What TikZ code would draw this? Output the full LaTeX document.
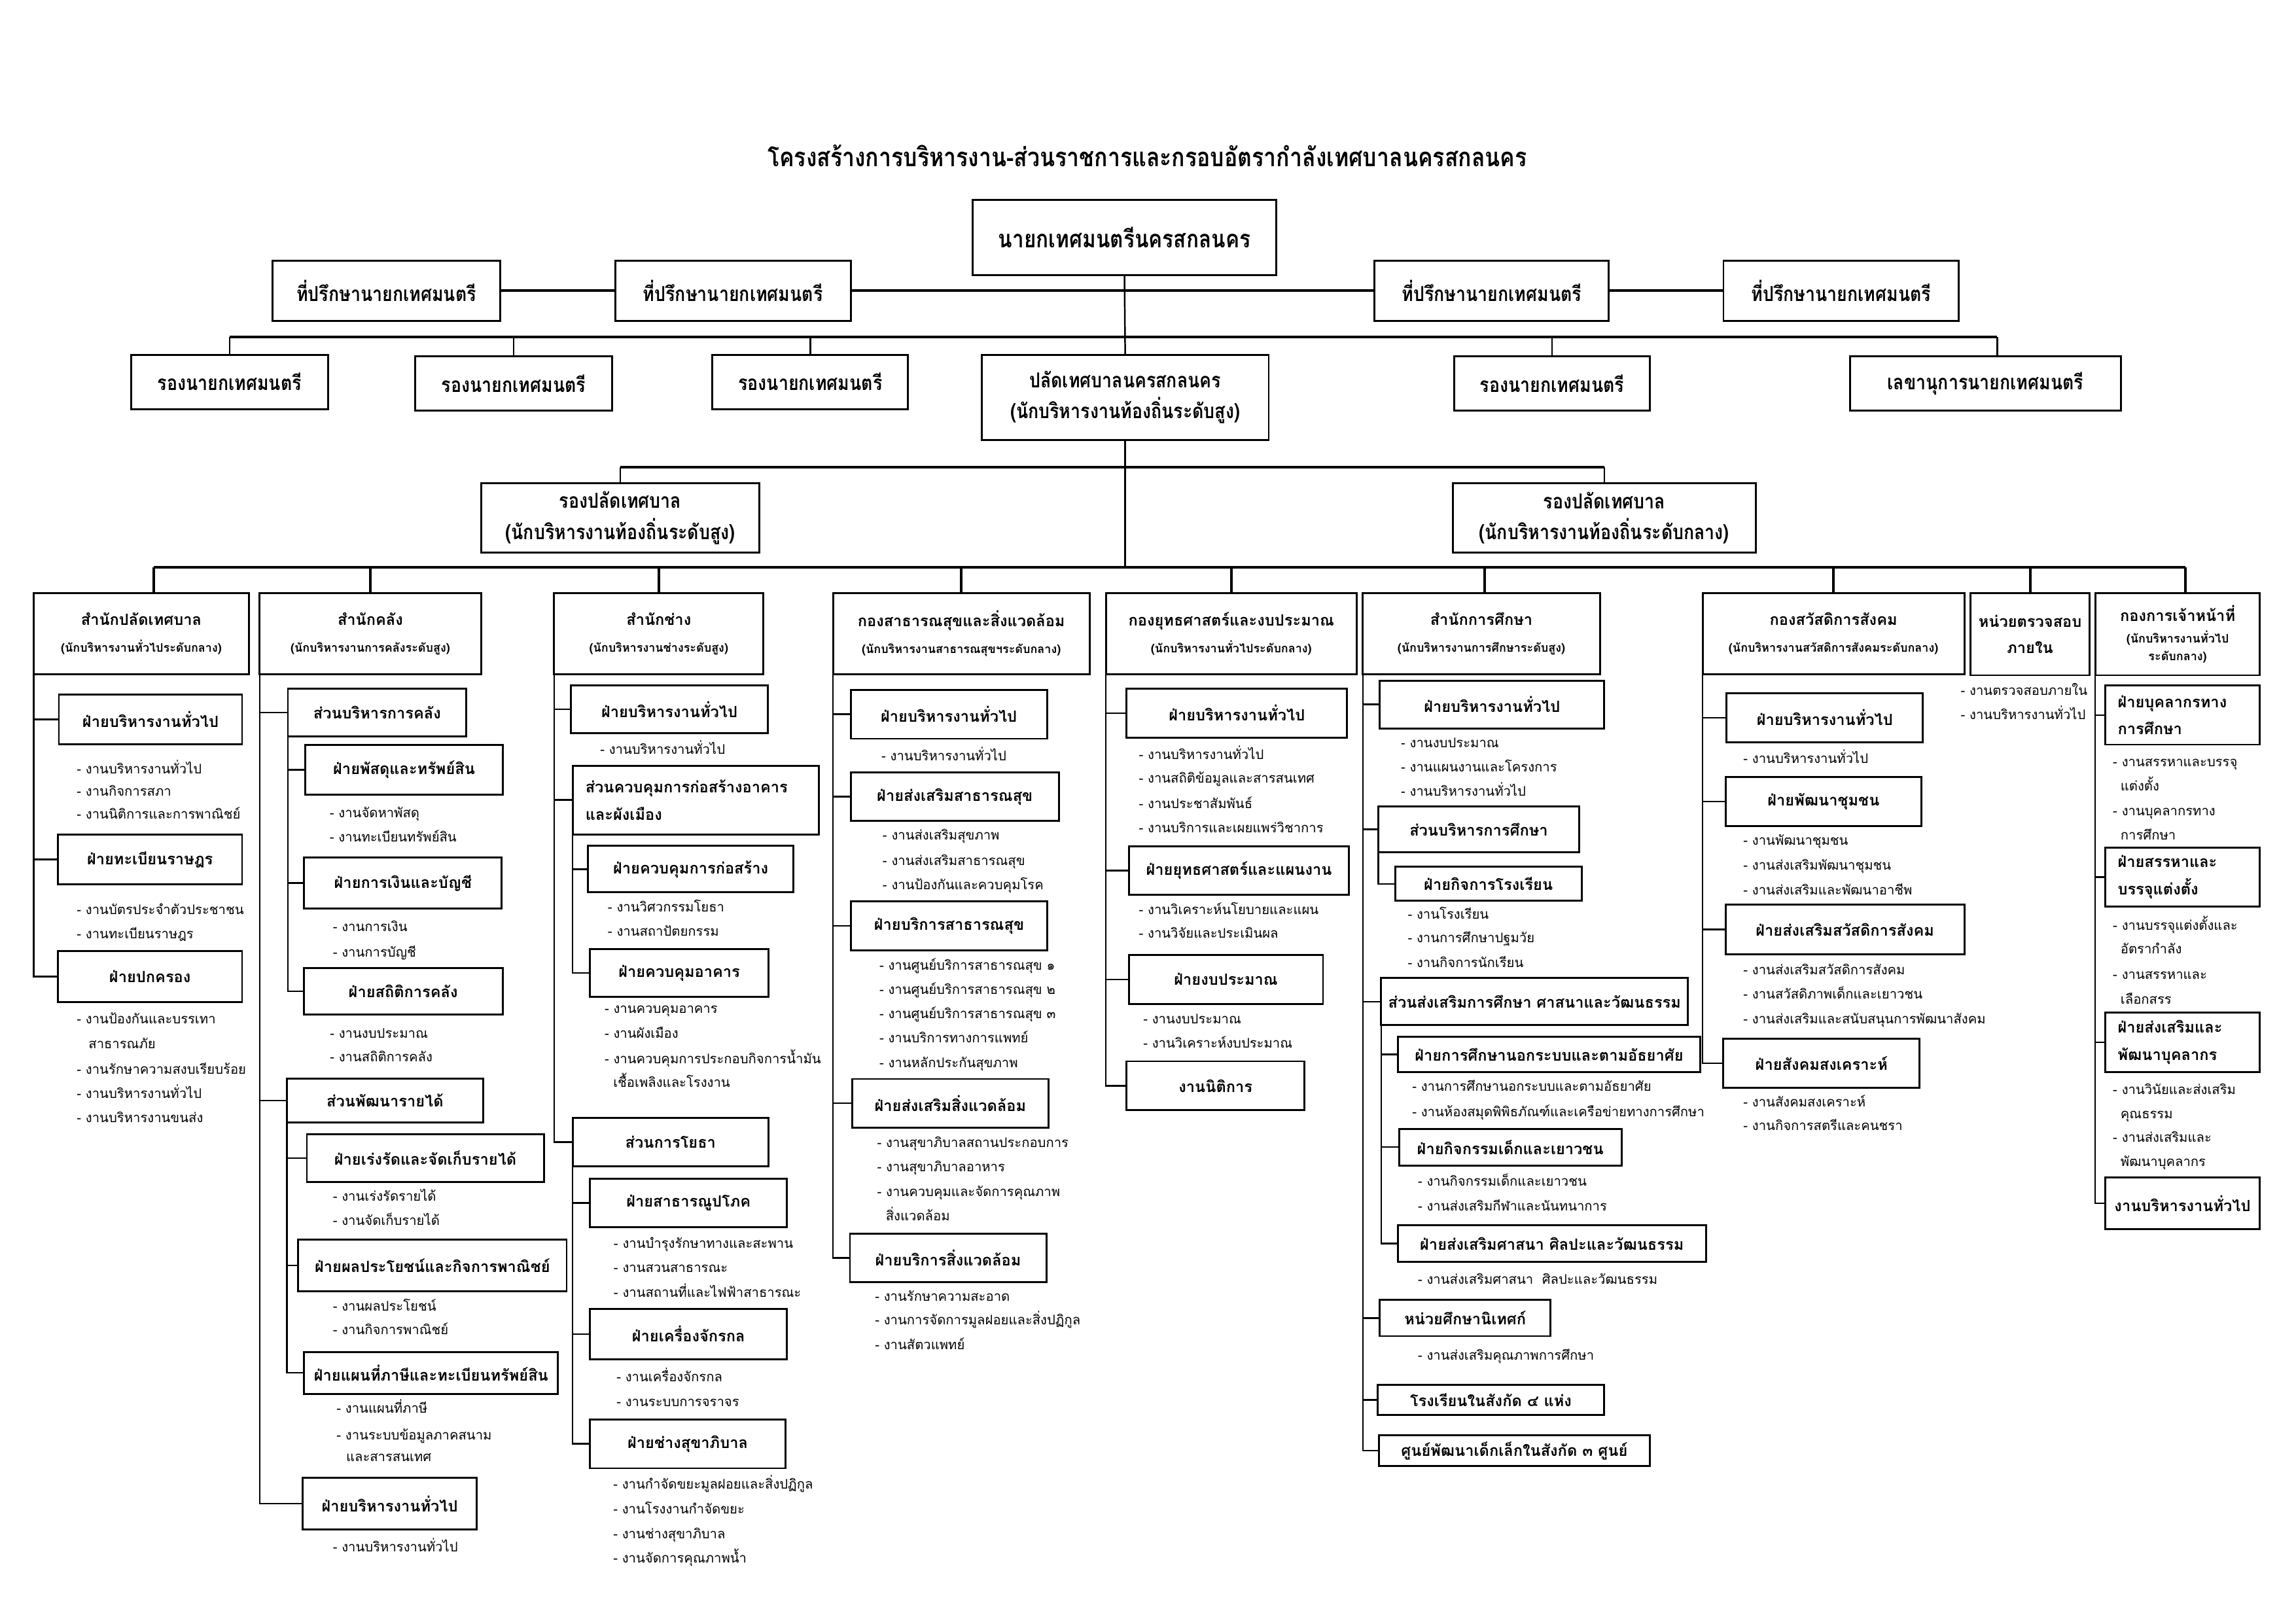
\documentclass[tikz,border=0pt]{standalone}
\usepackage{fontspec}
\setmainfont[Script=Thai]{Loma}
\newfontfamily\thaic[Script=Thai,FakeStretch=0.85]{Loma}
\tikzset{
  box/.style={draw, line width=1.3pt, inner sep=0pt, outer sep=0pt, align=center, font=\bfseries\fontsize{10.5}{14}\selectfont},
  lbox/.style={box, align=left, font=\bfseries\fontsize{10.5}{18.5}\selectfont},
  topbox/.style={box, font=\thaic\bfseries\fontsize{14}{21}\selectfont},
  hdr/.style={box, font=\bfseries\fontsize{10.5}{18}\selectfont},
  item/.style={anchor=west, inner sep=0pt, text height=7pt, text depth=2.4pt, font=\fontsize{9}{12}\selectfont},
  conn/.style={line width=1.1pt},
  bus/.style={line width=1.8pt},
}
\newcommand\bx[7]{\pgfmathsetmacro\bxw{#4-#2}\pgfmathsetmacro\bxh{#5-#3}%
  \node[#1,anchor=north west,minimum width=\bxw pt,minimum height=\bxh pt] (#6) at (#2,#3) {#7};}
\newcommand\itm[4]{\node[item] (#1) at (#2,#3) {#4};}
\newcommand\sm[1]{{\fontsize{8}{18}\selectfont #1}}
\begin{document}
\begin{tikzpicture}[x=1pt,y=-1pt]
\fill[white] (0,0) rectangle (1560,1103);
\path[use as bounding box] (0,0) rectangle (1560,1103);

% ---------- top ----------
\node[inner sep=0pt, font=\thaic\bfseries\fontsize{17.7}{20}\selectfont] (title) at (779.5,106) {โครงสร้างการบริหารงาน-ส่วนราชการและกรอบอัตรากำลังเทศบาลนครสกลนคร};
\bx{topbox}{661}{136}{867}{187}{mayor}{\fontsize{16.5}{20}\selectfont นายกเทศมนตรีนครสกลนคร}
\bx{topbox}{185}{177}{340}{218}{adv1}{ที่ปรึกษานายกเทศมนตรี}
\bx{topbox}{418}{177}{578}{218}{adv2}{ที่ปรึกษานายกเทศมนตรี}
\bx{topbox}{934}{177}{1093}{218}{adv3}{ที่ปรึกษานายกเทศมนตรี}
\bx{topbox}{1171}{177}{1331}{218}{adv4}{ที่ปรึกษานายกเทศมนตรี}
\draw[bus] (adv1.east) -- (adv2.west);
\draw[bus] (adv2.east) -- (adv3.west);
\draw[bus] (adv3.east) -- (adv4.west);

\bx{topbox}{89}{241}{223}{278}{dep1}{รองนายกเทศมนตรี}
\bx{topbox}{282}{242}{416}{279}{dep2}{รองนายกเทศมนตรี}
\bx{topbox}{484}{241}{617}{278}{dep3}{รองนายกเทศมนตรี}
\bx{topbox}{667}{241}{862}{299}{palat}{ปลัดเทศบาลนครสกลนคร\\(นักบริหารงานท้องถิ่นระดับสูง)}
\bx{topbox}{988}{242}{1121}{279}{dep4}{รองนายกเทศมนตรี}
\bx{topbox}{1257}{242}{1441}{279}{sec}{เลขานุการนายกเทศมนตรี}
\coordinate (b1) at (0,229);
\coordinate (secx) at (1357,0);
\draw[conn] (mayor.south) -- (palat.north);
\draw[bus] (dep1.north |- b1) -- (secx |- b1);
\foreach \n in {dep1,dep2,dep3,dep4} \draw[conn] (\n.north) -- (\n.north |- b1);
\draw[conn] (secx |- sec.north) -- (secx |- b1);

\bx{topbox}{327}{328.5}{516}{375.4}{dp1}{รองปลัดเทศบาล\\(นักบริหารงานท้องถิ่นระดับสูง)}
\bx{topbox}{987}{328.5}{1193}{375.4}{dp2}{รองปลัดเทศบาล\\(นักบริหารงานท้องถิ่นระดับกลาง)}
\coordinate (b2) at (0,317.6);
\draw[bus] (dp1.north |- b2) -- (dp2.north |- b2);
\draw[conn] (dp1.north) -- (dp1.north |- b2);
\draw[conn] (dp2.north) -- (dp2.north |- b2);

% ---------- column headers ----------
\bx{hdr}{23}{403}{169}{458}{c1}{สำนักปลัดเทศบาล\\\sm{(นักบริหารงานทั่วไประดับกลาง)}}
\bx{hdr}{176.4}{403}{326.8}{458}{c2}{สำนักคลัง\\\sm{(นักบริหารงานการคลังระดับสูง)}}
\bx{hdr}{376.5}{403}{518.7}{458}{c3}{สำนักช่าง\\\sm{(นักบริหารงานช่างระดับสูง)}}
\bx{hdr}{566}{403}{740.3}{458}{c4}{กองสาธารณสุขและสิ่งแวดล้อม\\\sm{(นักบริหารงานสาธารณสุขฯระดับกลาง)}}
\bx{hdr}{751.4}{403}{921.8}{458}{c5}{กองยุทธศาสตร์และงบประมาณ\\\sm{(นักบริหารงานทั่วไประดับกลาง)}}
\bx{hdr}{926}{403}{1087}{458}{c6}{สำนักการศึกษา\\\sm{(นักบริหารงานการศึกษาระดับสูง)}}
\bx{hdr}{1156.8}{403}{1334.7}{458}{c7}{กองสวัสดิการสังคม\\\sm{(นักบริหารงานสวัสดิการสังคมระดับกลาง)}}
\bx{hdr}{1338.7}{403}{1419.9}{458.8}{c8}{หน่วยตรวจสอบ\\ภายใน}
\bx{box}{1423.6}{403}{1535.5}{458.8}{c9}{กองการเจ้าหน้าที่\\[1pt]\sm{(นักบริหารงานทั่วไป}\\[-2pt]\sm{ระดับกลาง)}}
\coordinate (mb) at (0,385.3);
\coordinate (x1) at (104.3,0);
\coordinate (x6) at (1008.6,0);
\coordinate (x9) at (1484.7,0);
\draw[conn] (palat.south) -- (palat.south |- mb);
\draw[bus] (x1 |- mb) -- (x9 |- mb);
\draw[bus] (x1 |- c1.north) -- (x1 |- mb);
\draw[bus] (x6 |- c6.north) -- (x6 |- mb);
\draw[bus] (x9 |- c9.north) -- (x9 |- mb);
\foreach \n in {c2,c3,c4,c5,c7,c8} \draw[bus] (\n.north) -- (\n.north |- mb);

% ---------- column 1 ----------
\bx{box}{40}{472}{164.5}{505.5}{c1a}{ฝ่ายบริหารงานทั่วไป}
\itm{c1a1}{52}{523.5}{- งานบริหารงานทั่วไป}
\itm{c1a2}{52}{538.5}{- งานกิจการสภา}
\itm{c1a3}{52}{554}{- งานนิติการและการพาณิชย์}
\bx{box}{39.3}{567}{164.5}{601}{c1b}{ฝ่ายทะเบียนราษฎร}
\itm{c1b1}{52}{619}{- งานบัตรประจำตัวประชาชน}
\itm{c1b2}{52}{635.5}{- งานทะเบียนราษฎร}
\bx{box}{39.3}{646}{164.5}{681}{c1c}{ฝ่ายปกครอง}
\itm{c1c1}{52}{693}{- งานป้องกันและบรรเทา}
\itm{c1c1b}{60}{710}{สาธารณภัย}
\itm{c1c2}{52}{727.5}{- งานรักษาความสงบเรียบร้อย}
\itm{c1c3}{52}{744}{- งานบริหารงานทั่วไป}
\itm{c1c4}{52}{760.5}{- งานบริหารงานขนส่ง}
\foreach \n in {c1a,c1b,c1c} \draw[conn] (c1.south west) |- (\n.west);

% ---------- column 2 ----------
\bx{box}{195.6}{467.8}{316.9}{500.5}{c2a}{ส่วนบริหารการคลัง}
\bx{box}{207.5}{506.2}{341.6}{539.8}{c2a1}{ฝ่ายพัสดุและทรัพย์สิน}
\itm{c2a1a}{223.8}{553}{- งานจัดหาพัสดุ}
\itm{c2a1b}{223.8}{569.5}{- งานทะเบียนทรัพย์สิน}
\bx{box}{206.7}{582.7}{340.9}{617.2}{c2a2}{ฝ่ายการเงินและบัญชี}
\itm{c2a2a}{226}{630.7}{- งานการเงิน}
\itm{c2a2b}{226}{647.7}{- งานการบัญชี}
\bx{box}{206.3}{657.8}{341.6}{689.2}{c2a3}{ฝ่ายสถิติการคลัง}
\itm{c2a3a}{224}{702.8}{- งานงบประมาณ}
\itm{c2a3b}{224}{719}{- งานสถิติการคลัง}
\bx{box}{194.9}{732.9}{328.3}{762.6}{c2b}{ส่วนพัฒนารายได้}
\bx{box}{208.5}{770.5}{369.5}{803.3}{c2b1}{ฝ่ายเร่งรัดและจัดเก็บรายได้}
\itm{c2b1a}{226}{813.7}{- งานเร่งรัดรายได้}
\itm{c2b1b}{226}{830.3}{- งานจัดเก็บรายได้}
\bx{box}{202.6}{842.1}{385}{877.5}{c2b2}{ฝ่ายผลประโยชน์และกิจการพาณิชย์}
\itm{c2b2a}{226}{888.4}{- งานผลประโยชน์}
\itm{c2b2b}{226}{904.6}{- งานกิจการพาณิชย์}
\bx{box}{206.7}{918.6}{379.1}{947}{c2b3}{ฝ่ายแผนที่ภาษีและทะเบียนทรัพย์สิน}
\itm{c2b3a}{228.5}{957.9}{- งานแผนที่ภาษี}
\itm{c2b3b}{228.5}{975.8}{- งานระบบข้อมูลภาคสนาม}
\itm{c2b3c}{235}{990.6}{และสารสนเทศ}
\bx{box}{205.7}{1004.2}{323.8}{1039.1}{c2c}{ฝ่ายบริหารงานทั่วไป}
\itm{c2c1}{226}{1051.8}{- งานบริหารงานทั่วไป}
\foreach \n in {c2a,c2b,c2c} \draw[conn] (c2.south west) |- (\n.west);
\foreach \n in {c2a1,c2a2,c2a3} \draw[conn] (c2a.south west) |- (\n.west);
\foreach \n in {c2b1,c2b2,c2b3} \draw[conn] (c2b.south west) |- (\n.west);

% ---------- column 3 ----------
\bx{box}{387.9}{465.6}{521.7}{498.3}{c3a}{ฝ่ายบริหารงานทั่วไป}
\itm{c3a1}{407.6}{510.1}{- งานบริหารงานทั่วไป}
\bx{lbox, text width=150pt}{389.1}{520.2}{556.5}{566.9}{c3b}{ส่วนควบคุมการก่อสร้างอาคาร\\และผังเมือง}
\bx{box}{399.4}{574.8}{539.2}{606.2}{c3b1}{ฝ่ายควบคุมการก่อสร้าง}
\itm{c3b1a}{412.8}{617.2}{- งานวิศวกรรมโยธา}
\itm{c3b1b}{412.8}{633.8}{- งานสถาปัตยกรรม}
\bx{box}{400.9}{644.7}{522.1}{677.4}{c3b2}{ฝ่ายควบคุมอาคาร}
\itm{c3b2a}{410.6}{686.2}{- งานควบคุมอาคาร}
\itm{c3b2b}{410.6}{702.8}{- งานผังเมือง}
\itm{c3b2c}{410.6}{720.2}{- งานควบคุมการประกอบกิจการน้ำมัน}
\itm{c3b2d}{416.5}{736.4}{เชื้อเพลิงและโรงงาน}
\bx{box}{389.1}{759.6}{522.1}{792.3}{c3c}{ส่วนการโยธา}
\bx{box}{400.9}{801}{534.7}{833.8}{c3c1}{ฝ่ายสาธารณูปโภค}
\itm{c3c1a}{416.8}{845.6}{- งานบำรุงรักษาทางและสะพาน}
\itm{c3c1b}{416.8}{862.2}{- งานสวนสาธารณะ}
\itm{c3c1c}{416.8}{879.2}{- งานสถานที่และไฟฟ้าสาธารณะ}
\bx{box}{400.9}{889.3}{534.7}{923.4}{c3c2}{ฝ่ายเครื่องจักรกล}
\itm{c3c2a}{418.7}{936.5}{- งานเครื่องจักรกล}
\itm{c3c2b}{418.7}{953.5}{- งานระบบการจราจร}
\bx{box}{400.9}{964.4}{533.6}{997.6}{c3c3}{ฝ่ายช่างสุขาภิบาล}
\itm{c3c3a}{416.5}{1009.4}{- งานกำจัดขยะมูลฝอยและสิ่งปฏิกูล}
\itm{c3c3b}{416.5}{1026}{- งานโรงงานกำจัดขยะ}
\itm{c3c3c}{416.5}{1043}{- งานช่างสุขาภิบาล}
\itm{c3c3d}{416.5}{1059.6}{- งานจัดการคุณภาพน้ำ}
\foreach \n in {c3a,c3b,c3c} \draw[conn] (c3.south west) |- (\n.west);
\foreach \n in {c3b1,c3b2} \draw[conn] (c3b.south west) |- (\n.west);
\foreach \n in {c3c1,c3c2,c3c3} \draw[conn] (c3c.south west) |- (\n.west);

% ---------- column 4 ----------
\bx{box}{578}{468.7}{711.4}{501.9}{c4a}{ฝ่ายบริหารงานทั่วไป}
\itm{c4a1}{598.7}{514.4}{- งานบริหารงานทั่วไป}
\bx{box}{578}{524.7}{719.5}{557.9}{c4b}{ฝ่ายส่งเสริมสาธารณสุข}
\itm{c4b1}{599.5}{568.2}{- งานส่งเสริมสุขภาพ}
\itm{c4b2}{599.5}{585.6}{- งานส่งเสริมสาธารณสุข}
\itm{c4b3}{599.5}{602.2}{- งานป้องกันและควบคุมโรค}
\bx{box}{578}{612.5}{711.7}{645.7}{c4c}{ฝ่ายบริการสาธารณสุข}
\itm{c4c1}{597.3}{656.7}{- งานศูนย์บริการสาธารณสุข ๑}
\itm{c4c2}{597.3}{673}{- งานศูนย์บริการสาธารณสุข ๒}
\itm{c4c3}{597.3}{689.6}{- งานศูนย์บริการสาธารณสุข ๓}
\itm{c4c4}{597.3}{706.1}{- งานบริการทางการแพทย์}
\itm{c4c5}{597.3}{723.1}{- งานหลักประกันสุขภาพ}
\bx{box}{579}{733.1}{712.4}{766.2}{c4d}{ฝ่ายส่งเสริมสิ่งแวดล้อม}
\itm{c4d1}{595.8}{777.3}{- งานสุขาภิบาลสถานประกอบการ}
\itm{c4d2}{595.8}{793.9}{- งานสุขาภิบาลอาหาร}
\itm{c4d3}{595.8}{810.5}{- งานควบคุมและจัดการคุณภาพ}
\itm{c4d4}{601.7}{827.1}{สิ่งแวดล้อม}
\bx{box}{577.5}{838.1}{710.9}{871.3}{c4e}{ฝ่ายบริการสิ่งแวดล้อม}
\itm{c4e1}{594.3}{881.7}{- งานรักษาความสะอาด}
\itm{c4e2}{594.3}{897.9}{- งานการจัดการมูลฝอยและสิ่งปฏิกูล}
\itm{c4e3}{594.3}{914.8}{- งานสัตวแพทย์}
\foreach \n in {c4a,c4b,c4c,c4d,c4e} \draw[conn] (c4.south west) |- (\n.west);

% ---------- column 5 ----------
\bx{box}{765.5}{467.9}{915.2}{501.1}{c5a}{ฝ่ายบริหารงานทั่วไป}
\itm{c5a1}{773.6}{513.6}{- งานบริหารงานทั่วไป}
\itm{c5a2}{773.6}{529.7}{- งานสถิติข้อมูลและสารสนเทศ}
\itm{c5a3}{773.6}{546.8}{- งานประชาสัมพันธ์}
\itm{c5a4}{773.6}{563.6}{- งานบริการและเผยแพร่วิชาการ}
\bx{box}{767}{574.9}{916.6}{608}{c5b}{ฝ่ายยุทธศาสตร์และแผนงาน}
\itm{c5b1}{773.6}{619}{- งานวิเคราะห์นโยบายและแผน}
\itm{c5b2}{773.6}{635.1}{- งานวิจัยและประเมินผล}
\bx{box}{767}{648.9}{898.9}{682}{c5c}{ฝ่ายงบประมาณ}
\itm{c5c1}{776.6}{693}{- งานงบประมาณ}
\itm{c5c2}{776.6}{709.6}{- งานวิเคราะห์งบประมาณ}
\bx{box}{765.5}{721.1}{886.3}{754.3}{c5d}{งานนิติการ}
\foreach \n in {c5a,c5b,c5c,c5d} \draw[conn] (c5.south west) |- (\n.west);

% ---------- column 6 ----------
\bx{box}{937.5}{462.4}{1090}{494.9}{c6a}{ฝ่ายบริหารงานทั่วไป}
\itm{c6a1}{951.7}{505.7}{- งานงบประมาณ}
\itm{c6a2}{951.7}{522}{- งานแผนงานและโครงการ}
\itm{c6a3}{951.7}{538.6}{- งานบริหารงานทั่วไป}
\bx{box}{936.4}{547.8}{1073}{579.1}{c6b}{ส่วนบริหารการศึกษา}
\bx{box}{947.9}{589}{1074.6}{612.1}{c6b1}{ฝ่ายกิจการโรงเรียน}
\itm{c6b1a}{956.3}{622}{- งานโรงเรียน}
\itm{c6b1b}{956.3}{637.9}{- งานการศึกษาปฐมวัย}
\itm{c6b1c}{956.3}{655}{- งานกิจการนักเรียน}
\bx{box}{938.4}{664.5}{1146.9}{696.6}{c6c}{ส่วนส่งเสริมการศึกษา ศาสนาและวัฒนธรรม}
\bx{box}{949.7}{704.6}{1155.3}{728.4}{c6c1}{ฝ่ายการศึกษานอกระบบและตามอัธยาศัย}
\itm{c6c1a}{959.3}{739.1}{- งานการศึกษานอกระบบและตามอัธยาศัย}
\itm{c6c1b}{959.3}{756.2}{- งานห้องสมุดพิพิธภัณฑ์และเครือข่ายทางการศึกษา}
\bx{box}{950.6}{766.9}{1101.7}{791.9}{c6c2}{ฝ่ายกิจกรรมเด็กและเยาวชน}
\itm{c6c2a}{963.2}{803.4}{- งานกิจกรรมเด็กและเยาวชน}
\itm{c6c2b}{963.2}{820.5}{- งานส่งเสริมกีฬาและนันทนาการ}
\bx{box}{949.7}{832.4}{1159.1}{857.4}{c6c3}{ฝ่ายส่งเสริมศาสนา ศิลปะและวัฒนธรรม}
\itm{c6c3a}{963.2}{870.1}{- งานส่งเสริมศาสนา~ ศิลปะและวัฒนธรรม}
\bx{box}{937.5}{883.2}{1053.5}{907.8}{c6d}{หน่วยศึกษานิเทศก์}
\itm{c6d1}{963.2}{921.7}{- งานส่งเสริมคุณภาพการศึกษา}
\bx{box}{935.9}{940.8}{1090}{961.4}{c6e}{โรงเรียนในสังกัด ๔ แห่ง}
\bx{box}{936.8}{975.3}{1121}{996}{c6f}{ศูนย์พัฒนาเด็กเล็กในสังกัด ๓ ศูนย์}
\foreach \n in {c6a,c6b,c6c,c6d,c6e,c6f} \draw[conn] (c6.south west) |- (\n.west);
\draw[conn] (c6b.south west) |- (c6b1.west);
\foreach \n in {c6c1,c6c2,c6c3} \draw[conn] (c6c.south west) |- (\n.west);

% ---------- column 7 ----------
\bx{box}{1173.1}{471}{1306.5}{504.2}{c7a}{ฝ่ายบริหารงานทั่วไป}
\itm{c7a1}{1184.3}{516.2}{- งานบริหารงานทั่วไป}
\bx{box}{1172.4}{527.9}{1305.5}{561.1}{c7b}{ฝ่ายพัฒนาชุมชน}
\itm{c7b1}{1184.3}{571.8}{- งานพัฒนาชุมชน}
\itm{c7b2}{1184.3}{588.9}{- งานส่งเสริมพัฒนาชุมชน}
\itm{c7b3}{1184.3}{605.5}{- งานส่งเสริมและพัฒนาอาชีพ}
\bx{box}{1172.4}{614.7}{1334.7}{648.4}{c7c}{ฝ่ายส่งเสริมสวัสดิการสังคม}
\itm{c7c1}{1184.3}{659.8}{- งานส่งเสริมสวัสดิการสังคม}
\itm{c7c2}{1184.3}{676.4}{- งานสวัสดิภาพเด็กและเยาวชน}
\itm{c7c3}{1184.3}{693}{- งานส่งเสริมและสนับสนุนการพัฒนาสังคม}
\bx{box}{1170.9}{705.8}{1304.3}{739}{c7d}{ฝ่ายสังคมสงเคราะห์}
\itm{c7d1}{1184.3}{749.9}{- งานสังคมสงเคราะห์}
\itm{c7d2}{1184.3}{765.7}{- งานกิจการสตรีและคนชรา}
\foreach \n in {c7a,c7b,c7c,c7d} \draw[conn] (c7.south west) |- (\n.west);

% ---------- column 8 ----------
\itm{c8a}{1332}{470.2}{- งานตรวจสอบภายใน}
\itm{c8b}{1332}{486.5}{- งานบริหารงานทั่วไป}

% ---------- column 9 ----------
\bx{lbox, text width=88pt}{1430.2}{465.7}{1535.5}{505.9}{c9a}{ฝ่ายบุคลากรทาง\\การศึกษา}
\itm{c9a1}{1435.4}{518.4}{- งานสรรหาและบรรจุ}
\itm{c9a2}{1440.6}{535.1}{แต่งตั้ง}
\itm{c9a3}{1435.4}{552}{- งานบุคลากรทาง}
\itm{c9a4}{1440.6}{568.4}{การศึกษา}
\bx{lbox, text width=88pt}{1430.2}{575.9}{1535.5}{616}{c9b}{ฝ่ายสรรหาและ\\บรรจุแต่งตั้ง}
\itm{c9b1}{1435.4}{629.5}{- งานบรรจุแต่งตั้งและ}
\itm{c9b2}{1440.6}{645.8}{อัตรากำลัง}
\itm{c9b3}{1435.4}{663.1}{- งานสรรหาและ}
\itm{c9b4}{1440.6}{680.1}{เลือกสรร}
\bx{lbox, text width=88pt}{1430.2}{688.1}{1535.5}{728.3}{c9c}{ฝ่ายส่งเสริมและ\\พัฒนาบุคลากร}
\itm{c9c1}{1435.4}{741.1}{- งานวินัยและส่งเสริม}
\itm{c9c2}{1440.6}{757.5}{คุณธรรม}
\itm{c9c3}{1435.4}{773.9}{- งานส่งเสริมและ}
\itm{c9c4}{1440.6}{790.3}{พัฒนาบุคลากร}
\bx{box}{1430.2}{800.1}{1535.5}{835}{c9d}{งานบริหารงานทั่วไป}
\foreach \n in {c9a,c9b,c9c,c9d} \draw[conn] (c9.south west) |- (\n.west);
\end{tikzpicture}
\end{document}
